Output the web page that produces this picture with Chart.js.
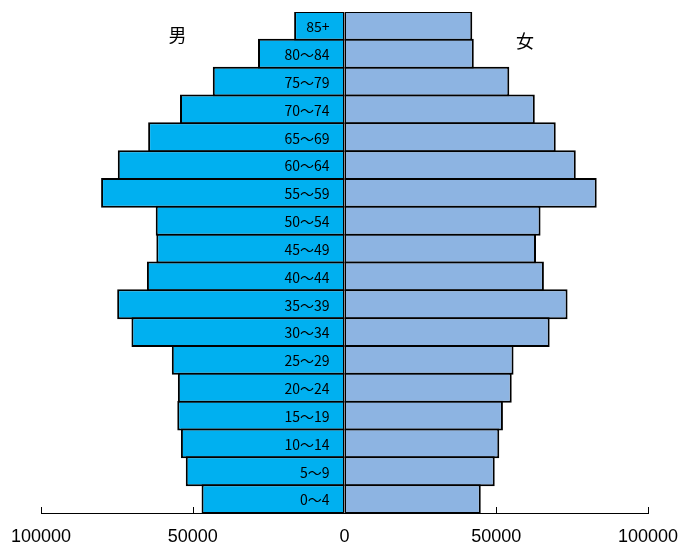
<!DOCTYPE html>
<html>
<head>
<meta charset="utf-8">
<script src="https://cdn.jsdelivr.net/npm/chart.js@4"></script>
<style>
  body { margin: 0; background: #fff; }
  #wrap { width: 687px; height: 544px; position: relative; }
</style>
</head>
<body>
<div id="wrap"><canvas id="pyramid"></canvas></div>
<script>
// age groups, top to bottom
var ageGroups = ["85+", "80～84", "75～79", "70～74", "65～69", "60～64", "55～59", "50～54", "45～49",
  "40～44", "35～39", "30～34", "25～29", "20～24", "15～19", "10～14", "5～9", "0～4"];
var male = [16600, 28500, 43400, 54200, 64700, 74700, 80200, 62200, 62000,
  65100, 74900, 70200, 56900, 54900, 55100, 53900, 52300, 47100];
var female = [42100, 42600, 54300, 62700, 69600, 76200, 83100, 64600, 63100,
  65700, 73500, 67600, 55700, 55100, 52200, 51000, 49500, 44900];
var xTicks = [-100000, -50000, 0, 50000, 100000];
var sideLabels = ["男", "女"];

// labels in the middle, side captions and the little upward ticks
var extras = {
  id: "extras",
  afterDraw: function (chart) {
    var ctx = chart.ctx;
    var x = chart.scales.x;
    var y = chart.scales.y;
    ctx.save();
    ctx.strokeStyle = "#000";
    ctx.lineWidth = 1;
    xTicks.forEach(function (t) {
      var px = Math.round(x.getPixelForValue(t)) + 0.5;
      ctx.beginPath();
      ctx.moveTo(px, x.top);
      ctx.lineTo(px, x.top - 6);
      ctx.stroke();
    });
    ctx.fillStyle = "#000";
    ctx.font = "14px 'Noto Sans CJK JP'";
    ctx.textAlign = "right";
    ctx.textBaseline = "middle";
    var labelX = x.getPixelForValue(0) - 15;
    ageGroups.forEach(function (g, i) {
      ctx.fillText(g, labelX, y.getPixelForValue(i) + 1);
    });
    ctx.font = "18px 'Noto Sans CJK JP'";
    ctx.textAlign = "center";
    ctx.fillText(sideLabels[0], x.getPixelForValue(-55000), 35);
    ctx.fillText(sideLabels[1], x.getPixelForValue(59500), 41);
    ctx.restore();
  }
};

new Chart(document.getElementById("pyramid"), {
  type: "bar",
  data: {
    labels: ageGroups,
    datasets: [
      {
        label: "男",
        data: male.map(function (v) { return -v; }),
        backgroundColor: "#00B0F0",
        borderColor: "#000",
        borderWidth: { top: 2, bottom: 2, left: 2, right: 1.5 },
        borderSkipped: false
      },
      {
        label: "女",
        data: female,
        backgroundColor: "#8DB4E2",
        borderColor: "#000",
        borderWidth: { top: 2, bottom: 2, left: 1.5, right: 2 },
        borderSkipped: false
      }
    ]
  },
  options: {
    indexAxis: "y",
    responsive: true,
    maintainAspectRatio: false,
    animation: false,
    // slight overlap so neighbouring rows share one border line
    barPercentage: 1.07,
    categoryPercentage: 1,
    layout: { padding: { left: 41, right: 39, top: 12, bottom: -17 } },
    plugins: { legend: { display: false }, tooltip: { enabled: false } },
    scales: {
      x: {
        stacked: true,
        min: -100000,
        max: 100000,
        afterBuildTicks: function (scale) {
          scale.ticks = xTicks.map(function (v) { return { value: v }; });
        },
        afterFit: function (scale) {
          scale.paddingLeft = 0;
          scale.paddingRight = 0;
        },
        ticks: {
          color: "#000",
          padding: 15,
          maxRotation: 0,
          font: { family: "'Liberation Sans'", size: 18, lineHeight: 1 },
          callback: function (v) { return Math.abs(v); }
        },
        grid: { display: false, drawTicks: false },
        border: { display: true, color: "#000", width: 1 }
      },
      y: {
        stacked: true,
        display: false
      }
    }
  },
  plugins: [extras]
});
</script>
</body>
</html>
